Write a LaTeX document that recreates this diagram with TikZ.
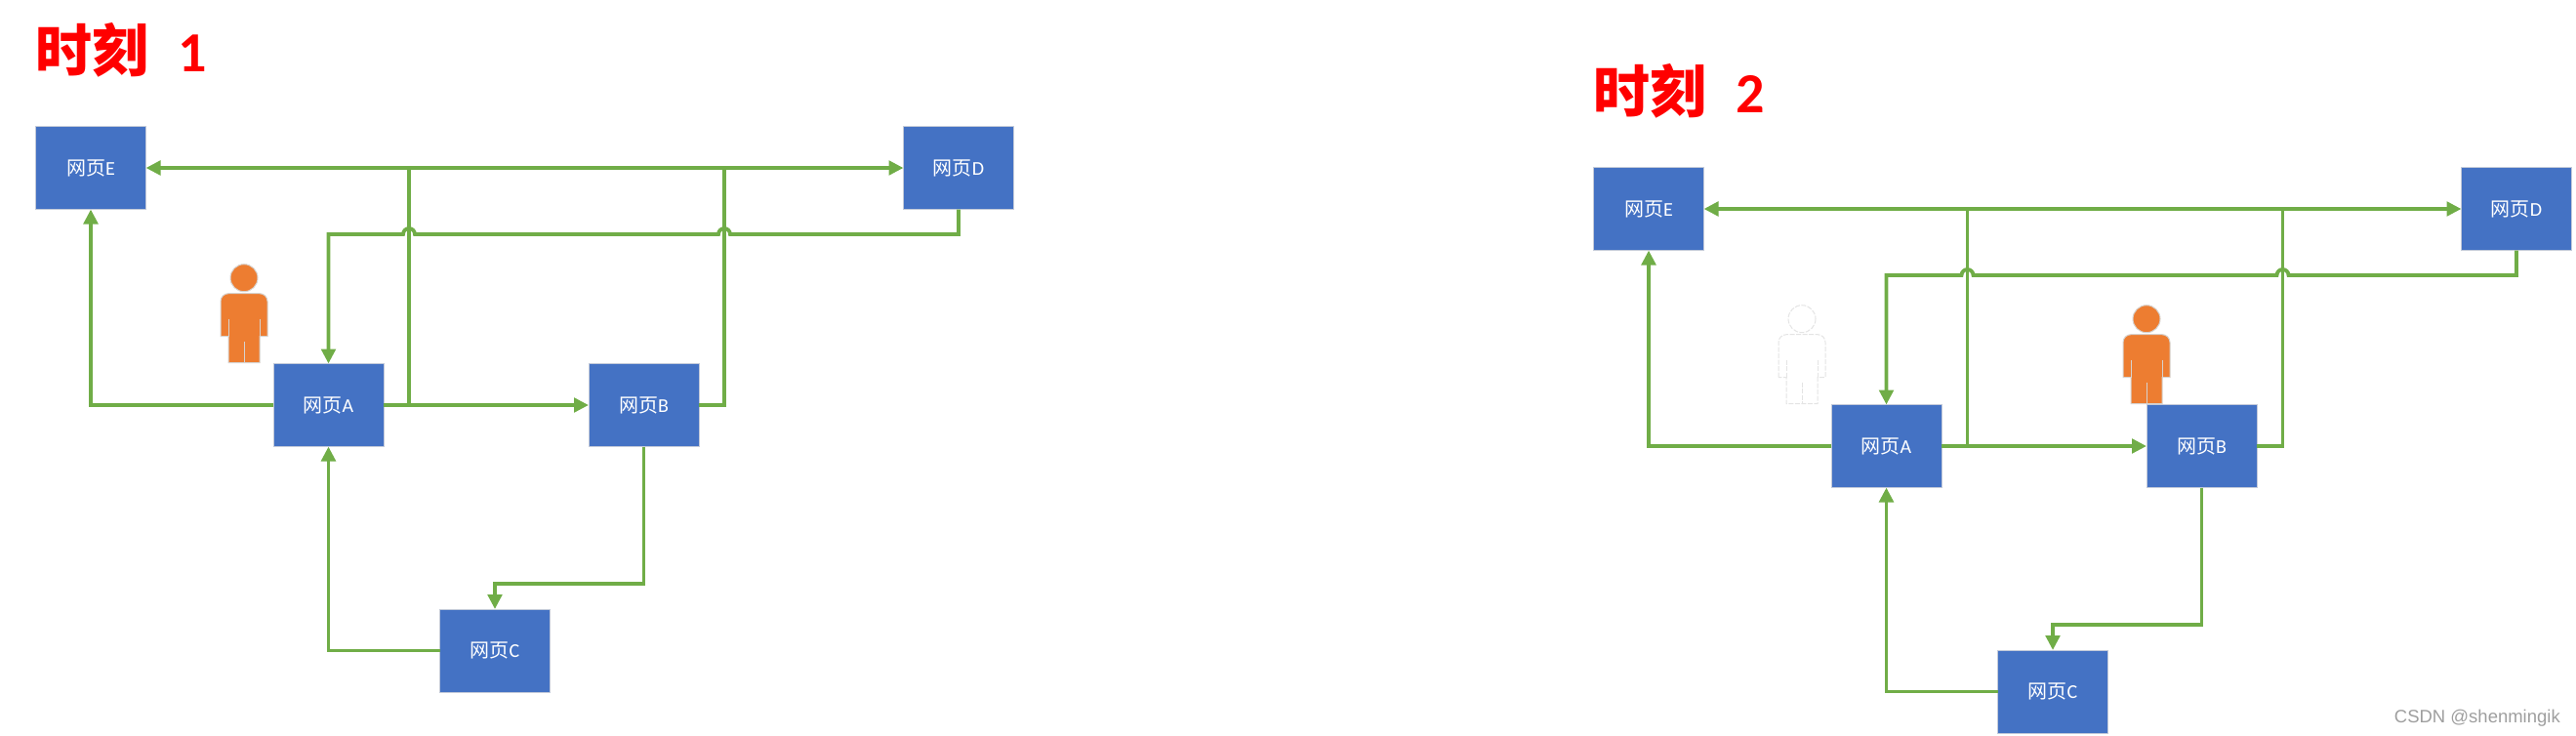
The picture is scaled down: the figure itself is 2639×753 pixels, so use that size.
\documentclass[tikz,border=0pt]{standalone}
\usepackage{fontspec}
\usepackage{xcolor}
\usetikzlibrary{arrows.meta}
\setsansfont{Carlito}
\newfontfamily\cjkfont{Noto Sans CJK SC}
\newfontfamily\markfont{Liberation Sans}
\definecolor{pageblue}{HTML}{4472C4}
\definecolor{pageedge}{HTML}{C3CAD9}
\definecolor{linkgreen}{HTML}{70AD47}
\definecolor{personorange}{HTML}{ED7D31}
\definecolor{personedge}{HTML}{D6D2CE}
\definecolor{ghostgray}{HTML}{E4E4E4}
\definecolor{titlered}{HTML}{FF0000}
\definecolor{markgray}{HTML}{9E9E9E}

\begin{document}
\begin{tikzpicture}[
  x=1pt, y=-1pt,
  >={Triangle[length=15pt,width=14.5pt]},
  webpage/.style={rectangle, fill=pageblue, draw=pageedge, line width=1pt, minimum width=113pt, minimum height=85pt, inner sep=0pt, outer sep=0pt, text=white, font=\fontsize{20}{22}\selectfont\sffamily},
  webedge/.style={->, draw=linkgreen, line width=3.8pt},
  webline/.style={draw=linkgreen, line width=3.8pt},
  weblink/.style={draw=linkgreen, line width=4.6pt},
  timetitle/.style={anchor=base west, inner sep=0pt, text=titlered, font=\fontsize{58}{60}\selectfont\bfseries},
  visitorlit/.style={fill=personorange, draw=personedge, line width=1pt},
  visitorghost/.style={fill=white, draw=ghostgray, line width=1pt, dashed, dash pattern=on 5pt off 1.5pt},
  pics/visitor/.style={code={
    \path[#1] (0,0) circle[radius=14];
    \path[#1] (-24,60) [rounded corners=8pt] -- (-24,16) -- (24,16) [sharp corners] -- (24,60) -- (16,60) -- (16,87) -- (-16,87) -- (-16,60) -- cycle;
    \path[#1] (-16,42) -- (-16,60) (16,42) -- (16,60) (0,65) -- (0,87);
  }}
]
  \useasboundingbox (0,0) rectangle (2639,753);

  % first moment
  \node[timetitle] (t1) at (36,73) {\cjkfont 时刻\hspace{30pt}\sffamily 1};
  \node[webpage] (e1) at (93,172) {\cjkfont 网页\sffamily E};
  \node[webpage] (d1) at (982,172) {\cjkfont 网页\sffamily D};
  \node[webpage] (a1) at (336.5,415) {\cjkfont 网页\sffamily A};
  \node[webpage] (b1) at (659.5,415) {\cjkfont 网页\sffamily B};
  \node[webpage] (c1) at (507,666.5) {\cjkfont 网页\sffamily C};
  \pic at (250,284.7) {visitor=visitorlit};

  \coordinate (ja1) at (419,172);
  \coordinate (jb1) at (742,172);
  \coordinate (ha1) at (419,240);
  \coordinate (hb1) at (742,240);
  \coordinate (cb1) at (659.5,598);

  \draw[webedge] (a1.west) -| (e1.south);
  \draw[webedge] (a1.east) -- (b1.west);
  \draw[webline] (a1.east) -| (ja1);
  \draw[webline] (b1.east) -| (jb1);
  \draw[webedge, <->] (e1.east) -- (d1.west);
  \draw[weblink] (ja1) -- (jb1);
  \draw[webedge] (d1.south) |- ([xshift=6pt]hb1) arc[start angle=0, end angle=-180, radius=6] -- ([xshift=6pt]ha1) arc[start angle=0, end angle=-180, radius=6] -| (a1.north);
  \draw[webedge] (b1.south) -- (cb1) -| (c1.north);
  \draw[webedge] (c1.west) -| (a1.south);

  % second moment
  \node[timetitle] (t2) at (1632,115) {\cjkfont 时刻\hspace{30pt}\sffamily 2};
  \node[webpage] (e2) at (1689,214) {\cjkfont 网页\sffamily E};
  \node[webpage] (d2) at (2578,214) {\cjkfont 网页\sffamily D};
  \node[webpage] (a2) at (1932.5,457) {\cjkfont 网页\sffamily A};
  \node[webpage] (b2) at (2255.5,457) {\cjkfont 网页\sffamily B};
  \node[webpage] (c2) at (2103,708.5) {\cjkfont 网页\sffamily C};
  \pic at (1846,326.7) {visitor=visitorghost};
  \pic at (2199,326.7) {visitor=visitorlit};

  \coordinate (ja2) at (2015.5,214);
  \coordinate (jb2) at (2338.5,214);
  \coordinate (ha2) at (2015.5,282);
  \coordinate (hb2) at (2338.5,282);
  \coordinate (cb2) at (2255.5,640);

  \draw[webedge] (a2.west) -| (e2.south);
  \draw[webedge] (a2.east) -- (b2.west);
  \draw[webline] (a2.east) -| (ja2);
  \draw[webline] (b2.east) -| (jb2);
  \draw[webedge, <->] (e2.east) -- (d2.west);
  \draw[weblink] (ja2) -- (jb2);
  \draw[webedge] (d2.south) |- ([xshift=6pt]hb2) arc[start angle=0, end angle=-180, radius=6] -- ([xshift=6pt]ha2) arc[start angle=0, end angle=-180, radius=6] -| (a2.north);
  \draw[webedge] (b2.south) -- (cb2) -| (c2.north);
  \draw[webedge] (c2.west) -| (a2.south);

  \node[anchor=base east, inner sep=0pt, text=markgray, font=\fontsize{18.5}{20}\selectfont\markfont] (mark) at (2623,740) {CSDN @shenmingik};
\end{tikzpicture}
\end{document}
